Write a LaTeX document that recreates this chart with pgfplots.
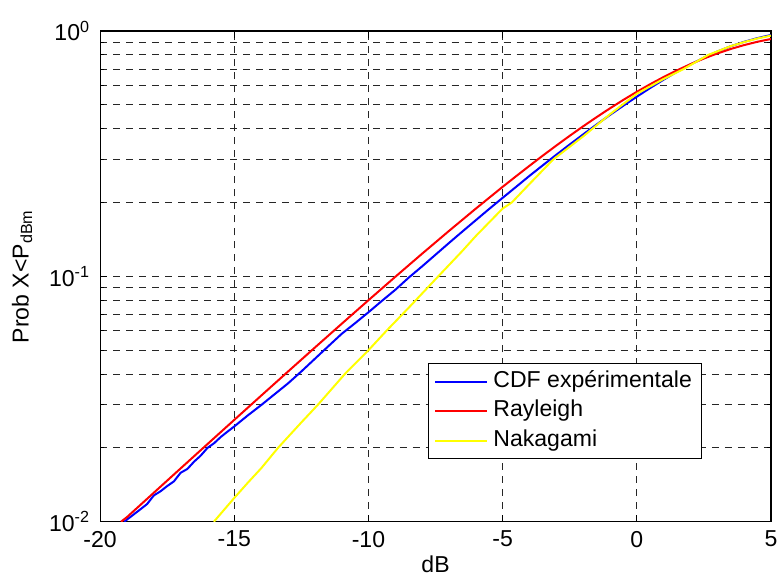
\documentclass[border=0pt]{standalone}
\usepackage{fontspec}
\setmainfont{Liberation Sans}
\usepackage{pgfplots}
\pgfplotsset{compat=1.18}
\definecolor{mblue}{RGB}{0,0,255}
\definecolor{mred}{RGB}{255,0,0}
\definecolor{myellow}{RGB}{255,255,0}
\begin{document}
\begin{tikzpicture}
\useasboundingbox (-50pt,-26.5pt) rectangle (339pt,260.5pt);
\begin{axis}[
  at={(0pt,0pt)}, anchor=south west,
  scale only axis, width=335pt, height=245pt,
  ymode=log, xmin=-20, xmax=5, ymin=0.01, ymax=1,
  xtick={-20,-15,-10,-5,0,5}, xticklabels={-20,-15,-10,-5,0,5},
  ytick={0.01,0.1,1},
  yticklabels={10\textsuperscript{-2},10\textsuperscript{-1},10\textsuperscript{0}},
  minor ytick={0.02,0.03,0.04,0.05,0.06,0.07,0.08,0.09,0.2,0.3,0.4,0.5,0.6,0.7,0.8,0.9},
  grid=both,
  major grid style={black!85, dash pattern=on 3.5pt off 3pt, line width=0.4pt},
  minor grid style={black!85, dash pattern=on 3.5pt off 3pt, line width=0.4pt},
  tick align=inside, major tick length=3.5pt, minor tick length=2pt,
  tick style={black, line width=0.4pt},
  axis line style={black, line width=0.6pt},
  ticklabel style={font=\fontsize{11.5}{13}\selectfont},
  xticklabel style={yshift=-1.2pt},
  yticklabel style={xshift=-1.5pt},
  xlabel={dB},
  ylabel={Prob X<P\textsubscript{dBm}},
  label style={font=\fontsize{11.5}{13}\selectfont},
  xlabel style={at={(axis description cs:0.5,-0.087)}, anchor=center},
  ylabel style={at={(axis description cs:-0.1164,0.5)}, anchor=center},
  legend cell align=left,
  legend image code/.code={\draw[#1, line width=1pt] (0pt,0pt) -- (26pt,0pt);},
  legend style={at={(axis description cs:0.488,0.323)}, anchor=north west,
    draw=black, line width=0.5pt, fill=white,
    font=\fontsize{11.5}{13}\selectfont,
    inner xsep=3.2pt, inner ysep=1.8pt,
    nodes={inner sep=1.5pt, text height=8.5pt, text depth=2.7pt},
    row sep=0.6pt, column sep=1pt},
]
\addplot[mblue, line width=1pt] coordinates {
(-19.1,0.0100) (-18.8,0.0106) (-18.5,0.01123) (-18.25,0.0118) (-18.0,0.01279)
(-17.75,0.01330) (-17.5,0.01397) (-17.25,0.01460) (-17.0,0.01583) (-16.75,0.01640)
(-16.5,0.01756) (-16.25,0.01860) (-16.0,0.01999) (-15.75,0.02090) (-15.5,0.02217)
(-15.25,0.02330) (-15.0,0.02445) (-14.5,0.02710) (-14.0,0.02986) (-13.5,0.03307)
(-13.0,0.03661) (-12.5,0.04097) (-12.0,0.0461) (-11.5,0.05185) (-11.0,0.05829)
(-10.5,0.06442) (-10.0,0.0714) (-9.5,0.07944) (-9.0,0.08814) (-8.5,0.09883)
(-8.0,0.10987) (-7.5,0.12258) (-7.0,0.13679) (-6.5,0.15233) (-6.0,0.16942)
(-5.5,0.18841) (-5.0,0.2090) (-4.5,0.2316) (-4.0,0.2569) (-3.5,0.2838)
(-3.0,0.3131) (-2.5,0.3449) (-2.0,0.3791) (-1.5,0.4158) (-1.0,0.4551)
(-0.5,0.4964) (0.0,0.5400) (0.5,0.5862) (1.0,0.6335) (1.5,0.6828)
(2.0,0.7309) (2.5,0.7790) (3.0,0.8250) (3.5,0.8672) (4.0,0.9039)
(4.5,0.9362) (5.0,0.9636)
};
\addlegendentry{CDF expérimentale}
\addplot[mred, line width=1pt] coordinates {
(-19.22,0.0100) (-19,0.010436) (-18,0.013120) (-17,0.016490) (-16,0.020715)
(-15,0.026008) (-14,0.032632) (-13,0.040906) (-12,0.051222) (-11,0.064051)
(-10,0.079955) (-9,0.099592) (-8,0.123725) (-7,0.153184) (-6,0.188874)
(-5,0.231694) (-4.5,0.255911) (-4,0.282298) (-3.5,0.310807) (-3,0.341400)
(-2.5,0.374105) (-2,0.408908) (-1.5,0.445614) (-1,0.484166) (-0.5,0.524176)
(0,0.565402) (0.5,0.607415) (1,0.649769) (1.5,0.691830) (2,0.733072)
(2.5,0.772794) (3,0.810386) (3.5,0.845208) (4,0.876688) (4.5,0.904494)
(5,0.928295)
};
\addlegendentry{Rayleigh}
\addplot[myellow, line width=1pt] coordinates {
(-15.76,0.0100) (-15,0.0125) (-14.5,0.0144) (-14,0.0165) (-13.37,0.0200)
(-12.5,0.0254) (-11.88,0.0300) (-10.88,0.0400) (-10,0.0500) (-9.33,0.0600)
(-8.5,0.0745) (-7.4,0.1000) (-6.5,0.127) (-6,0.146) (-5,0.189)
(-4.66,0.200) (-4,0.238) (-3.11,0.300) (-2,0.372) (-1,0.458)
(0,0.555) (1,0.638) (1.74,0.700) (2.67,0.800) (3.5,0.868)
(4,0.902) (4.5,0.933) (5,0.958)
};
\addlegendentry{Nakagami}
\end{axis}
\end{tikzpicture}
\end{document}
